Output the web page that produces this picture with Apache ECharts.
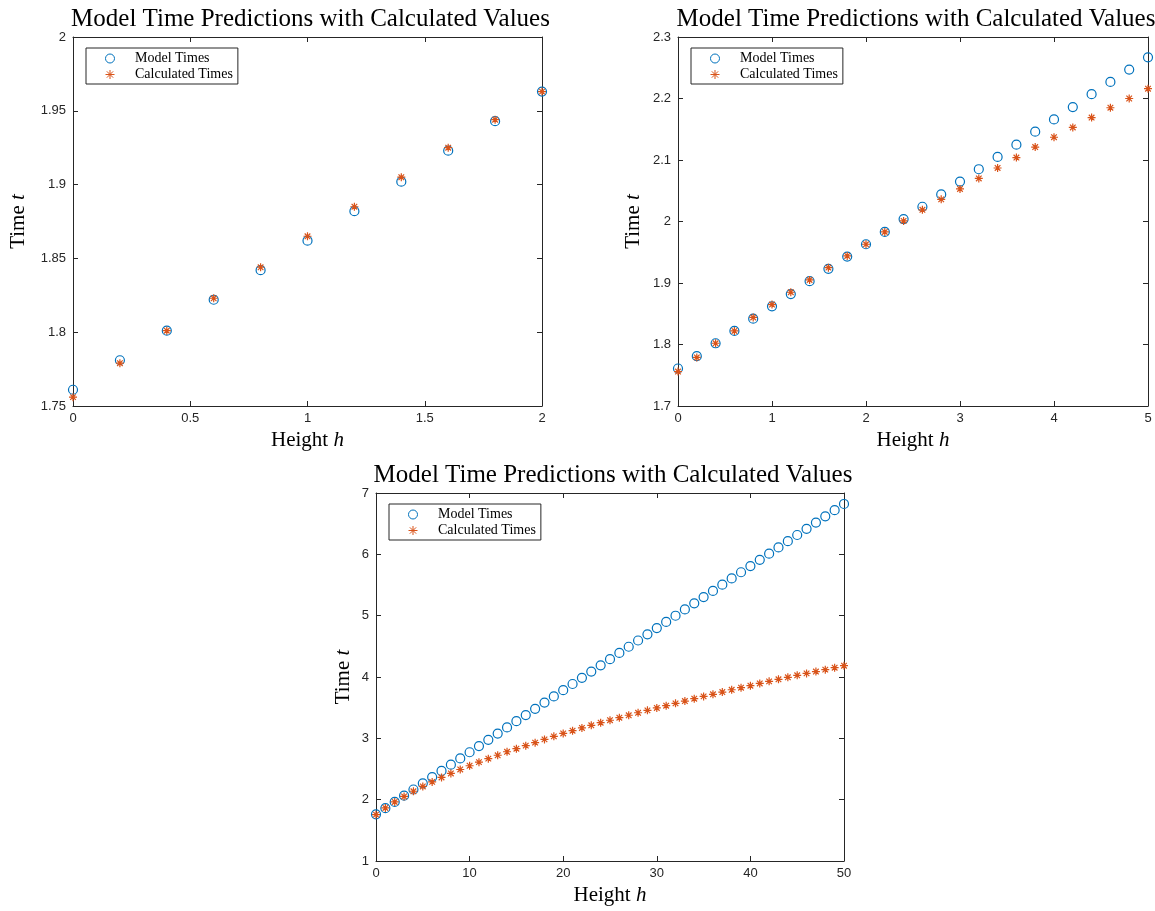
<!DOCTYPE html>
<html>
<head>
<meta charset="utf-8">
<style>
  html, body { margin: 0; padding: 0; background: #fff; }
  #chart { width: 1155px; height: 911px; }
</style>
<script src="https://cdn.jsdelivr.net/npm/echarts@6/dist/echarts.min.js"></script>
</head>
<body>
<div id="chart"></div>
<script>
// heights (h) for each panel
const h1 = [0, 0.2, 0.4, 0.6, 0.8, 1, 1.2, 1.4, 1.6, 1.8, 2];
const h2 = [0, 0.2, 0.4, 0.6, 0.8, 1, 1.2, 1.4, 1.6, 1.8, 2, 2.2, 2.4, 2.6, 2.8, 3,
  3.2, 3.4, 3.6, 3.8, 4, 4.2, 4.4, 4.6, 4.8, 5];
const h3 = [0, 1, 2, 3, 4, 5, 6, 7, 8, 9, 10, 11, 12, 13, 14, 15, 16, 17, 18, 19,
  20, 21, 22, 23, 24, 25, 26, 27, 28, 29, 30, 31, 32, 33, 34, 35, 36, 37, 38, 39,
  40, 41, 42, 43, 44, 45, 46, 47, 48, 49, 50];

// panel 1 values
const model1 = [1.761, 1.781, 1.801, 1.822, 1.842, 1.862, 1.882, 1.902, 1.923, 1.943, 1.963];
const calc1 = [1.756, 1.779, 1.801, 1.823, 1.844, 1.865, 1.885, 1.905, 1.925, 1.944, 1.963];

// panel 2 values
const model2 = [1.761, 1.781, 1.802, 1.822, 1.842, 1.862, 1.882, 1.903, 1.923, 1.943,
  1.963, 1.983, 2.004, 2.024, 2.044, 2.065, 2.085, 2.105, 2.125, 2.146,
  2.166, 2.186, 2.207, 2.227, 2.247, 2.267];
const calc2 = [1.756, 1.779, 1.802, 1.822, 1.844, 1.865, 1.885, 1.905, 1.925, 1.944,
  1.963, 1.983, 2.001, 2.019, 2.036, 2.053, 2.070, 2.087, 2.104, 2.121,
  2.137, 2.153, 2.169, 2.185, 2.200, 2.216];

// panel 3 values
const model3 = [1.761, 1.862, 1.963, 2.065, 2.166, 2.267, 2.368, 2.469, 2.571, 2.672,
  2.773, 2.874, 2.976, 3.077, 3.178, 3.279, 3.380, 3.481, 3.583, 3.684,
  3.785, 3.886, 3.987, 4.089, 4.190, 4.291, 4.392, 4.493, 4.595, 4.696,
  4.797, 4.898, 4.999, 5.101, 5.202, 5.303, 5.404, 5.505, 5.607, 5.708,
  5.809, 5.910, 6.011, 6.113, 6.214, 6.315, 6.416, 6.517, 6.619, 6.720, 6.821];
const calc3 = [1.756, 1.865, 1.963, 2.053, 2.137, 2.216, 2.290, 2.362, 2.428, 2.492,
  2.553, 2.612, 2.669, 2.724, 2.781, 2.831, 2.881, 2.930, 2.983, 3.032,
  3.080, 3.125, 3.169, 3.212, 3.255, 3.295, 3.337, 3.376, 3.417, 3.456,
  3.495, 3.532, 3.570, 3.608, 3.646, 3.684, 3.718, 3.755, 3.792, 3.826,
  3.858, 3.895, 3.929, 3.962, 3.995, 4.027, 4.059, 4.089, 4.120, 4.152, 4.184];

// axis ticks
const xTicks1 = { min: 0, max: 2, interval: 0.5 };
const yTicks1 = { min: 1.75, max: 2, interval: 0.05 };
const xTicks2 = { min: 0, max: 5, interval: 1 };
const yTicks2 = { min: 1.7, max: 2.3, interval: 0.1 };
const xTicks3 = { min: 0, max: 50, interval: 10 };
const yTicks3 = { min: 1, max: 7, interval: 1 };

const titleText = 'Model Time Predictions with Calculated Values';
const BLUE = '#0072BD';
const ORANGE = '#D95319';
const AXIS = '#262626';
const SERIF = '"Liberation Serif", "DejaVu Serif", serif';
const SANS = '"Liberation Sans", Arial, sans-serif';
const STAR = 'path://M5,0L5,10M0,5L10,5M1.5,1.5L8.5,8.5M1.5,8.5L8.5,1.5';

// panel boxes [left, top, width, height]
const boxes = [[73, 37, 469, 369], [678, 37, 470, 369], [376, 493, 468, 368]];
const ticks = [[xTicks1, yTicks1], [xTicks2, yTicks2], [xTicks3, yTicks3]];
const yNameGap = [44, 34, 22];
const hs = [h1, h2, h3];
const models = [model1, model2, model3];
const calcs = [calc1, calc2, calc3];

function pairs(xs, ys) {
  return xs.map((x, i) => [x, ys[i]]);
}

const grid = [], xAxis = [], yAxis = [], series = [], title = [], legend = [];

boxes.forEach((b, i) => {
  grid.push({ left: b[0], top: b[1], width: b[2], height: b[3] });

  title.push({
    text: titleText,
    left: b[0] + b[2] / 2 - 2,
    top: b[1] - 35,
    textAlign: 'center',
    textStyle: { fontFamily: SERIF, fontSize: 25, fontWeight: 'normal', color: '#000' }
  });

  legend.push({
    data: ['Model Times', 'Calculated Times'],
    orient: 'vertical',
    left: b[0] + 13,
    top: b[1] + 11,
    itemWidth: 40,
    itemHeight: 9,
    itemGap: 1,
    padding: [3, 5, 2, 19],
    backgroundColor: '#fff',
    borderColor: AXIS,
    borderWidth: 1,
    selectedMode: false,
    itemStyle: { borderWidth: 1 },
    textStyle: { fontFamily: SERIF, fontSize: 14, color: '#000', lineHeight: 15 }
  });

  const xt = ticks[i][0], yt = ticks[i][1];
  const lineStyle = { color: AXIS, width: 1 };
  const nameStyle = {
    fontFamily: SERIF, fontSize: 21, color: '#000',
    rich: { i: { fontFamily: SERIF, fontSize: 21, fontStyle: 'italic', color: '#000' } }
  };
  xAxis.push({
    type: 'value', gridIndex: i, position: 'bottom',
    min: xt.min, max: xt.max, interval: xt.interval,
    name: 'Height {i|h}', nameLocation: 'middle', nameGap: 24,
    nameTextStyle: nameStyle,
    axisLine: { onZero: false, lineStyle },
    axisTick: { inside: true, length: 5, lineStyle },
    axisLabel: { fontFamily: SANS, fontSize: 13, color: AXIS, margin: 6 },
    splitLine: { show: false }
  });
  xAxis.push({
    type: 'value', gridIndex: i, position: 'top',
    min: xt.min, max: xt.max, interval: xt.interval,
    axisLine: { onZero: false, lineStyle },
    axisTick: { inside: true, length: 5, lineStyle },
    axisLabel: { show: false },
    splitLine: { show: false }
  });
  yAxis.push({
    type: 'value', gridIndex: i, position: 'left',
    min: yt.min, max: yt.max, interval: yt.interval,
    name: 'Time {i|t}', nameLocation: 'middle', nameGap: yNameGap[i], nameRotate: 90,
    nameTextStyle: nameStyle,
    axisLine: { onZero: false, lineStyle },
    axisTick: { inside: true, length: 5, lineStyle },
    axisLabel: { fontFamily: SANS, fontSize: 13, color: AXIS, margin: 7 },
    splitLine: { show: false }
  });
  yAxis.push({
    type: 'value', gridIndex: i, position: 'right',
    min: yt.min, max: yt.max, interval: yt.interval,
    axisLine: { onZero: false, lineStyle },
    axisTick: { inside: true, length: 5, lineStyle },
    axisLabel: { show: false },
    splitLine: { show: false }
  });

  series.push({
    name: 'Model Times',
    type: 'scatter',
    xAxisIndex: i * 2, yAxisIndex: i * 2,
    symbol: 'circle',
    symbolSize: 9,
    itemStyle: { color: 'rgba(0,0,0,0)', borderColor: BLUE, borderWidth: 1.2, opacity: 1 },
    data: pairs(hs[i], models[i]),
    animation: false
  });
  series.push({
    name: 'Calculated Times',
    type: 'scatter',
    xAxisIndex: i * 2, yAxisIndex: i * 2,
    symbol: STAR,
    symbolSize: 8,
    itemStyle: { color: ORANGE, borderColor: ORANGE, borderWidth: 1.2, opacity: 1 },
    data: pairs(hs[i], calcs[i]),
    animation: false
  });
});

const chart = echarts.init(document.getElementById('chart'));
chart.setOption({
  backgroundColor: '#fff',
  animation: false,
  title, legend, grid, xAxis, yAxis, series
});
</script>
</body>
</html>
